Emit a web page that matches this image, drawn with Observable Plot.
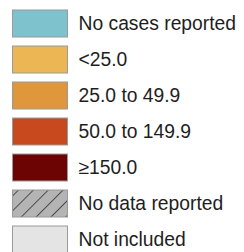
<!DOCTYPE html>
<html>
<head>
<meta charset="utf-8">
<script src="https://cdn.jsdelivr.net/npm/d3@7"></script>
<script src="https://cdn.jsdelivr.net/npm/@observablehq/plot@0.6"></script>
<style>
  html, body { margin: 0; padding: 0; background: #fff; }
  #chart svg { display: block; }
</style>
</head>
<body>
<div id="chart"></div>
<script>
const labels = ["No cases reported", "<25.0", "25.0 to 49.9", "50.0 to 149.9", "≥150.0", "No data reported", "Not included"];
const colors = ["#7DC2CC", "#ECB654", "#E0973B", "#C8491D", "#6C0404", "url(#hatch)", "#E4E4E4"];

const rows = labels.map((label, i) => ({label, color: colors[i]}));

const chart = Plot.plot({
  width: 244,
  height: 252,
  margin: 0,
  x: {type: "linear", domain: [0, 1], range: [12.5, 67.5], axis: null},
  y: {type: "band", domain: labels, range: [-0.7, 264.9], padding: 0.237, axis: null},
  style: {fontFamily: "'Liberation Sans', Arial, sans-serif", background: "#fff"},
  marks: [
    Plot.barX(rows, {y: "label", x1: () => 0, x2: () => 1, fill: d => d.color, stroke: "#9a9a9a", strokeWidth: 1}),
    Plot.text(rows, {y: "label", x: () => 1, dx: 10.5, text: "label", textAnchor: "start", fontSize: 19.3, fill: "#1e1e1e"})
  ]
});

const svg = d3.select(chart);
const defs = svg.insert("defs", ":first-child");
const pat = defs.append("pattern")
  .attr("id", "hatch")
  .attr("patternUnits", "userSpaceOnUse")
  .attr("width", 10.5)
  .attr("height", 10.5)
  .attr("patternTransform", "rotate(45)");
pat.append("rect").attr("width", 10.5).attr("height", 10.5).attr("fill", "#B4B4B4");
pat.append("line").attr("x1", 0).attr("y1", 0).attr("x2", 0).attr("y2", 10.5)
  .attr("stroke", "#2a2a2a").attr("stroke-width", 1.5);

document.getElementById("chart").appendChild(chart);
</script>
</body>
</html>
